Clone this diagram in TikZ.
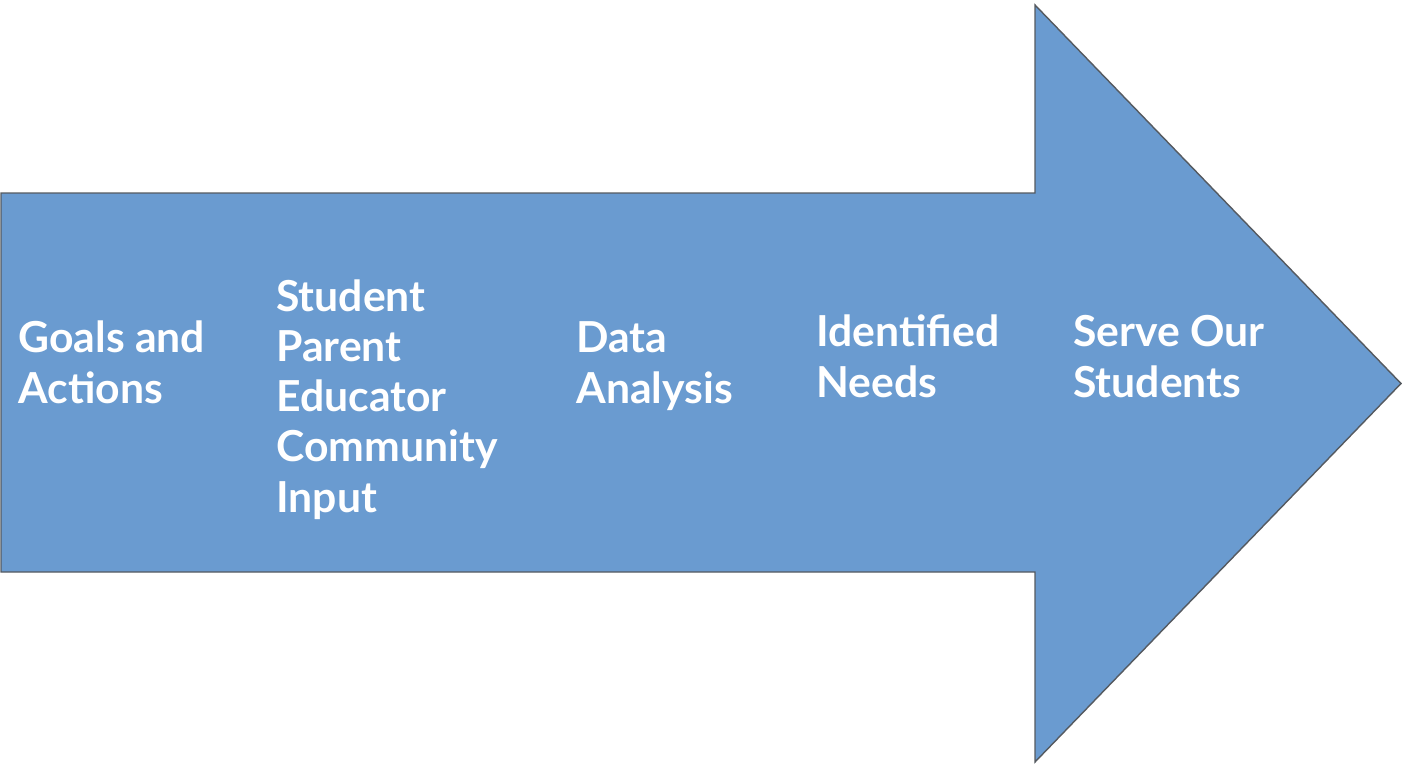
\documentclass[tikz,border=0pt]{standalone}
\usepackage{fontspec}
\setmainfont{Lato}
\usetikzlibrary{positioning}
\definecolor{arrowblue}{HTML}{6A9BD0}
\definecolor{arrowline}{HTML}{555A60}

\begin{document}
\begin{tikzpicture}[x=0.02cm,y=-0.02cm,
                       big arrow/.style={fill=arrowblue,draw=arrowline,line width=0.8pt,
                                         line join=miter},
                       step label/.style={anchor=base west,align=left,inner sep=0pt,
                                          text=white,font=\fontsize{24.3}{28.6}\selectfont\bfseries}
                      ]
   \useasboundingbox (0,0) rectangle (1402,764);
   \draw[big arrow] (1,193) -- (1035,193) -- (1035,5) -- (1401,383.5)
      -- (1035,762) -- (1035,572) -- (1,572) -- cycle;

   \node[step label] (goals) at (18,403) {Goals and\\Actions};
   \node[step label] (input) at (276,512) {Student\\Parent\\Educator\\Community\\Input};
   \node[step label] (data) at (576,403) {Data\\Analysis};
   \node[step label] (needs) at (816,397) {Identified\\Needs};
   \node[step label] (serve) at (1073,397) {Serve Our\\Students};
  \end{tikzpicture}
\end{document}
